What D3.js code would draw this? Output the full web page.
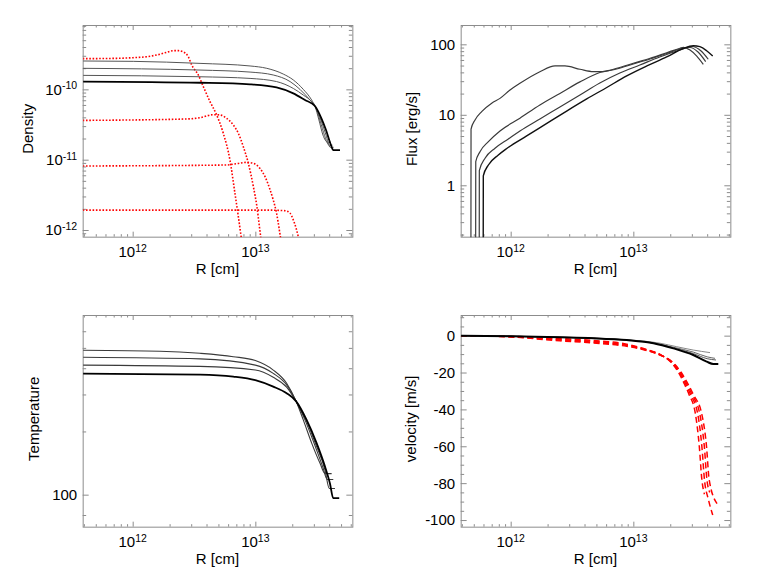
<!DOCTYPE html>
<html><head><meta charset="utf-8">
<script src="https://cdn.jsdelivr.net/npm/d3@7"></script>
<style>
body{margin:0;background:#fff;}
text{font-family:"Liberation Sans",Arial,Helvetica,sans-serif;fill:#000;}
</style></head><body>
<svg id="c" width="757" height="581"></svg>
<script>
// ---------- DATA (R in cm) ----------
const xMajor = [1e12, 1e13];
const xMajorExp = ["12", "13"];
const xMinor = [4e11,5e11,6e11,7e11,8e11,9e11,2e12,3e12,4e12,5e12,6e12,7e12,8e12,9e12,2e13,3e13,4e13,5e13,6e13];

// Density (black solid)
const densBlack1 = [[3.91e11,2.53e-10],[1.01e12,2.50e-10],[3.54e12,2.34e-10],[9.06e12,2.15e-10],[1.24e13,1.99e-10],[1.69e13,1.65e-10],[2.04e13,1.36e-10],[2.46e13,1.0e-10],[2.88e13,7.05e-11],[3.06e13,5.8e-11],[3.30e13,3.67e-11],[3.56e13,2.24e-11],[3.89e13,1.77e-11],[4.14e13,1.77e-11]];
const densBlack2 = [[3.91e11,1.99e-10],[3.54e12,1.88e-10],[9.06e12,1.76e-10],[1.40e13,1.60e-10],[1.92e13,1.29e-10],[2.31e13,1.0e-10],[2.79e13,7.05e-11],[3.06e13,5.8e-11],[3.38e13,3.54e-11],[3.67e13,2.20e-11],[3.99e13,1.61e-11],[4.25e13,1.61e-11]];
const densBlack3 = [[3.91e11,1.58e-10],[3.54e12,1.51e-10],[9.06e12,1.43e-10],[1.49e13,1.29e-10],[2.04e13,1.03e-10],[2.46e13,8.3e-11],[2.88e13,6.68e-11],[3.06e13,5.8e-11],[3.45e13,3.54e-11],[3.77e13,2.24e-11],[4.08e13,1.50e-11],[4.35e13,1.50e-11]];
const densBlack4 = [[3.91e11,1.29e-10],[3.54e12,1.24e-10],[9.06e12,1.18e-10],[1.49e13,1.07e-10],[2.04e13,8.77e-11],[2.54e13,7.05e-11],[3.06e13,5.8e-11],[3.45e13,3.91e-11],[3.77e13,2.64e-11],[4.14e13,1.61e-11],[4.32e13,1.37e-11],[4.90e13,1.37e-11]];
// Density (red dotted)
const densRed1 = [[3.91e11,2.73e-10],[7.42e11,2.76e-10],[1.01e12,2.82e-10],[1.30e12,2.91e-10],[1.57e12,3.08e-10],[1.89e12,3.36e-10],[2.15e12,3.55e-10],[2.36e12,3.55e-10],[2.59e12,3.40e-10],[2.84e12,2.91e-10],[3.03e12,2.22e-10],[3.43e12,1.60e-10],[3.77e12,1.09e-10],[4.27e12,6.68e-11],[4.84e12,4.32e-11],[5.48e12,2.37e-11],[6.21e12,9.88e-12],[6.82e12,3.32e-12],[7.27e12,1.55e-12],[7.7e12,7.5e-13]];
const densRed2 = [[3.91e11,3.62e-11],[2.75e12,3.79e-11],[3.54e12,3.95e-11],[4.55e12,4.36e-11],[5.15e12,4.32e-11],[5.84e12,3.87e-11],[6.62e12,3.11e-11],[7.27e12,2.37e-11],[7.98e12,1.53e-11],[8.77e12,8.87e-12],[9.64e12,4.13e-12],[1.03e13,2.15e-12],[1.08e13,1.11e-12],[1.11e13,7.5e-13]];
const densRed3 = [[3.91e11,8.13e-12],[5.84e12,8.40e-12],[7.05e12,8.77e-12],[8.50e12,9.16e-12],[9.64e12,8.87e-12],[1.09e13,7.53e-12],[1.20e13,5.73e-12],[1.32e13,3.71e-12],[1.40e13,2.67e-12],[1.49e13,1.73e-12],[1.57e13,1.0e-12],[1.61e13,7.5e-13]];
const densRed4 = [[3.91e11,1.92e-12],[1.24e13,1.92e-12],[1.75e13,1.88e-12],[1.92e13,1.73e-12],[2.04e13,1.39e-12],[2.17e13,1.0e-12],[2.26e13,7.5e-13]];
const densMajor = [1e-12, 1e-11, 1e-10];
const densMajorExp = ["-12", "-11", "-10"];

// Flux
const flux1 = [[4.74e11,0.1],[4.75e11,6.24],[5.12e11,8.45],[5.80e11,11.1],[7.0e11,14.6],[8.18e11,17.1],[9.88e11,22.5],[1.19e12,28.0],[1.73e12,40.9],[2.30e12,49.3],[2.77e12,49.3],[3.67e12,44.3],[4.72e12,41.0],[5.69e12,41.0],[7.32e12,45.7],[1.0e13,53.8],[1.37e13,63.4],[1.87e13,76.0],[2.40e13,87.9],[2.56e13,90.6],[2.90e13,83.1],[3.29e13,68.2],[3.72e13,52.1]];
const flux2 = [[5.18e11,0.1],[5.19e11,2.16],[5.62e11,3.00],[6.58e11,4.16],[8.18e11,5.90],[1.19e12,8.93],[1.73e12,13.8],[2.52e12,20.1],[3.67e12,29.3],[5.33e12,39.8],[7.31e12,44.7],[1.0e13,52.6],[1.37e13,61.9],[1.87e13,74.1],[2.40e13,85.9],[2.90e13,90.2],[3.37e13,77.8],[3.89e13,56.8]];
const flux3 = [[5.54e11,0.1],[5.55e11,1.61],[6.18e11,2.42],[7.45e11,3.35],[9.57e11,4.54],[1.19e12,5.90],[1.73e12,8.73],[2.52e12,12.9],[3.67e12,19.1],[5.33e12,28.3],[7.76e12,39.2],[1.13e13,50.9],[1.64e13,66.1],[2.40e13,83.2],[3.01e13,93.1],[3.57e13,80.4],[4.08e13,61.4]];
const flux4 = [[5.97e11,0.1],[5.98e11,1.36],[6.58e11,1.94],[7.93e11,2.69],[9.29e11,3.33],[1.35e12,5.01],[1.97e12,7.54],[2.86e12,11.3],[4.17e12,16.8],[6.07e12,24.4],[8.83e12,35.6],[1.29e13,49.3],[1.87e13,66.1],[2.55e13,87.3],[3.08e13,95.6],[3.49e13,92.6],[3.96e13,81.2],[4.44e13,68.2]];
const fluxMajor = [1, 10, 100];
const fluxMajorLabels = ["1", "10", "100"];

// Temperature
const temp1 = [[3.92e11,487],[1.67e12,482],[3.54e12,471],[6.61e12,454],[1.0e13,435],[1.40e13,392],[1.80e13,339],[2.145e13,279],[2.46e13,227],[2.88e13,176],[3.37e13,141],[3.70e13,126],[4.19e13,126]];
const temp2 = [[3.92e11,451],[3.54e12,443],[1.0e13,414],[1.40e13,378],[1.80e13,333],[2.145e13,279],[2.54e13,227],[3.01e13,176],[3.54e13,136],[3.86e13,118],[4.32e13,118]];
const temp3 = [[3.92e11,414],[3.54e12,408],[1.0e13,392],[1.40e13,362],[1.80e13,325],[2.145e13,279],[2.59e13,227],[3.08e13,176],[3.70e13,131],[4.01e13,107],[4.46e13,107]];
const temp4 = [[3.92e11,377],[3.54e12,373],[6.61e12,365],[1.0e13,351],[1.40e13,327],[1.80e13,304],[2.145e13,279],[2.62e13,227],[3.16e13,176],[3.70e13,136],[4.06e13,113],[4.32e13,96.2],[4.83e13,96.2]];
const tempMajor = [100];
const tempMajorLabels = ["100"];
const tempMinor = [80, 200, 300, 400, 500, 600];

// Velocity
const velBlack1 = [[3.92e11,0],[1e12,-0.3],[2.52e12,-0.8],[4.72e12,-1.3],[8.83e12,-2.2],[1.65e13,-4.1],[2.26e13,-6.0],[3.08e13,-7.8],[4.22e13,-9.2]];
const velBlack2 = [[3.92e11,0],[1e12,-0.3],[2.52e12,-0.85],[4.72e12,-1.35],[8.83e12,-2.3],[1.46e13,-4.0],[2.12e13,-6.3],[3.08e13,-8.9],[4.0e13,-11.5],[4.63e13,-12.3]];
const velBlack3 = [[3.92e11,0],[1e12,-0.3],[2.52e12,-0.9],[4.72e12,-1.4],[8.83e12,-2.35],[1.46e13,-4.1],[2.12e13,-6.6],[3.08e13,-9.7],[4.0e13,-12.5],[4.72e13,-13.2]];
const velBlack4 = [[3.92e11,0],[1e12,-0.3],[2.52e12,-0.9],[4.72e12,-1.4],[8.83e12,-2.4],[1.46e13,-4.1],[2.12e13,-6.9],[3.08e13,-10.5],[3.96e13,-14.1],[4.49e13,-15.4],[4.93e13,-15.4]];
const velRed1 = [[3.92e11,0],[1e12,-0.4],[2.52e12,-1.6],[4.72e12,-2.6],[8.83e12,-4.6],[1.21e13,-7.0],[1.65e13,-10.2],[2.0e13,-14],[2.31e13,-19.5],[2.6e13,-26],[2.85e13,-32],[3.2e13,-42],[3.45e13,-60],[3.62e13,-78],[3.8e13,-86]];
const velRed2 = [[3.92e11,0],[1e12,-0.5],[2.52e12,-2.0],[4.72e12,-3.1],[8.83e12,-5.0],[1.21e13,-7.2],[1.65e13,-10.3],[2.02e13,-14],[2.35e13,-19.5],[2.66e13,-26],[2.93e13,-32],[3.34e13,-42],[3.62e13,-60],[3.8e13,-78],[4.1e13,-89],[4.44e13,-97.3]];
const velRed3 = [[3.92e11,0],[1e12,-0.6],[2.52e12,-2.4],[4.72e12,-3.6],[8.83e12,-5.4],[1.21e13,-7.4],[1.65e13,-10.4],[2.04e13,-14],[2.39e13,-19.5],[2.72e13,-26],[3.01e13,-32],[3.47e13,-42],[3.79e13,-60],[3.98e13,-78],[4.2e13,-85]];
const velRed4 = [[3.92e11,0],[1e12,-0.7],[2.52e12,-2.8],[4.72e12,-4.0],[8.83e12,-5.8],[1.21e13,-7.6],[1.65e13,-10.5],[2.06e13,-14],[2.43e13,-19.5],[2.78e13,-26],[3.09e13,-32],[3.6e13,-42],[3.95e13,-60],[4.15e13,-78],[4.83e13,-91.3]];
const velMajor = [0, -20, -40, -60, -80, -100];
const velMajorLabels = ["0", "-20", "-40", "-60", "-80", "-100"];
const velMinor = [10, 5, -5, -10, -15, -25, -30, -35, -45, -50, -55, -65, -70, -75, -85, -90, -95];

// ---------- DRAWING ----------
const svg = d3.select("#c");
const PW = 269.67, PH = 211.67;
const xDomain = [3.91e11, 6.18e13];
const frameColor = "#8c8c8c";

function logMinor(lo, hi) {
  const out = [];
  for (let e = Math.floor(Math.log10(lo)); e <= Math.ceil(Math.log10(hi)); e++) {
    for (let m = 2; m <= 9; m++) { const v = m * Math.pow(10, e); if (v >= lo && v <= hi) out.push(v); }
  }
  return out;
}

function addSuper(t, base, exp) {
  t.append("tspan").text(base);
  if (exp) t.append("tspan").attr("dy", -5.5).attr("font-size", 10.5).text(exp);
}

let clipId = 0;
function panel(cfg) {
  const x0 = cfg.x0, y0 = cfg.y0;
  const g = svg.append("g");
  const x = d3.scaleLog().domain(xDomain).range([x0, x0 + PW]);
  const y = cfg.y.range([y0 + PH, y0]);

  const axisG = (axis, tx, ty) => {
    const a = g.append("g").attr("transform", `translate(${tx},${ty})`).call(axis);
    a.select(".domain").remove();
    a.selectAll("line").attr("stroke", frameColor).attr("stroke-width", 1);
    a.selectAll("text").remove();
  };
  axisG(d3.axisBottom(x).tickValues(xMajor).tickSizeInner(-5).tickSizeOuter(0), 0, y0 + PH);
  axisG(d3.axisBottom(x).tickValues(xMinor).tickSizeInner(-2.5).tickSizeOuter(0), 0, y0 + PH);
  axisG(d3.axisTop(x).tickValues(xMajor).tickSizeInner(-5).tickSizeOuter(0), 0, y0);
  axisG(d3.axisTop(x).tickValues(xMinor).tickSizeInner(-2.5).tickSizeOuter(0), 0, y0);
  axisG(d3.axisLeft(y).tickValues(cfg.yMajor).tickSizeInner(-6).tickSizeOuter(0), x0, 0);
  axisG(d3.axisLeft(y).tickValues(cfg.yMinor).tickSizeInner(-3.5).tickSizeOuter(0), x0, 0);
  axisG(d3.axisRight(y).tickValues(cfg.yMajor).tickSizeInner(-6).tickSizeOuter(0), x0 + PW, 0);
  axisG(d3.axisRight(y).tickValues(cfg.yMinor).tickSizeInner(-3.5).tickSizeOuter(0), x0 + PW, 0);

  g.append("rect").attr("x", x0 + 0.5).attr("y", y0 + 0.5).attr("width", PW).attr("height", PH)
    .attr("fill", "none").attr("stroke", frameColor).attr("stroke-width", 1);

  xMajor.forEach((v, i) => {
    const t = g.append("text").attr("x", x(v)).attr("y", y0 + PH + 20.7)
      .attr("text-anchor", "middle").attr("font-size", 15);
    addSuper(t, "10", xMajorExp[i]);
  });
  g.append("text").attr("x", x0 + PW / 2).attr("y", y0 + PH + 37.3)
    .attr("text-anchor", "middle").attr("font-size", 15).text("R [cm]");

  cfg.yMajor.forEach((v, i) => {
    const t = g.append("text").attr("x", x0 - 5.5).attr("y", y(v) + 5.4)
      .attr("text-anchor", "end").attr("font-size", 15);
    if (cfg.yExp) addSuper(t, "10", cfg.yExp[i]); else t.text(cfg.yLabels[i]);
  });
  g.append("text")
    .attr("transform", `translate(${cfg.titleX},${y0 + PH / 2 - 2}) rotate(-90)`)
    .attr("text-anchor", "middle").attr("font-size", 15).text(cfg.title);

  const id = "clip" + (clipId++);
  svg.append("clipPath").attr("id", id).append("rect")
    .attr("x", x0 + 0.5).attr("y", y0 + 0.5).attr("width", PW).attr("height", PH);
  const plot = g.append("g").attr("clip-path", `url(#${id})`);
  const line = d3.line().x(d => x(d[0])).y(d => y(d[1])).curve(d3.curveMonotoneX);
  cfg.series.forEach(s => {
    plot.append("path").attr("d", line(s.data)).attr("fill", "none")
      .attr("stroke", s.color).attr("stroke-width", s.w)
      .attr("stroke-dasharray", s.dash || null)
      .attr("stroke-linejoin", "round");
  });
}

const thin = "#3a3a3a";
panel({
  x0: 82.67, y0: 25, title: "Density", titleX: 32.5,
  y: d3.scaleLog().domain([8.04e-13, 8.22e-10]),
  yMajor: densMajor, yExp: densMajorExp, yMinor: logMinor(8.04e-13, 8.22e-10),
  series: [
    {data: densRed1, color: "#ff0000", w: 1.6, dash: "1.6,1.7"},
    {data: densRed2, color: "#ff0000", w: 1.6, dash: "1.6,1.7"},
    {data: densRed3, color: "#ff0000", w: 1.6, dash: "1.6,1.7"},
    {data: densRed4, color: "#ff0000", w: 1.6, dash: "1.6,1.7"},
    {data: densBlack1, color: "#555", w: 1},
    {data: densBlack2, color: "#555", w: 1},
    {data: densBlack3, color: "#555", w: 1},
    {data: densBlack4, color: "#000", w: 1.8}
  ]
});
panel({
  x0: 460.67, y0: 25, title: "Flux [erg/s]", titleX: 417,
  y: d3.scaleLog().domain([0.1866, 188]),
  yMajor: fluxMajor, yLabels: fluxMajorLabels, yMinor: logMinor(0.1866, 188),
  series: [
    {data: flux1, color: thin, w: 1.2},
    {data: flux2, color: thin, w: 1.2},
    {data: flux3, color: thin, w: 1.2},
    {data: flux4, color: "#111", w: 1.4}
  ]
});
panel({
  x0: 82.67, y0: 315, title: "Temperature", titleX: 39,
  y: d3.scaleLog().domain([70.4, 717]),
  yMajor: tempMajor, yLabels: tempMajorLabels, yMinor: tempMinor,
  series: [
    {data: temp1, color: thin, w: 1.1},
    {data: temp2, color: thin, w: 1.1},
    {data: temp3, color: thin, w: 1.1},
    {data: temp4, color: "#000", w: 1.8}
  ]
});
panel({
  x0: 460.67, y0: 315, title: "velocity [m/s]", titleX: 415.7,
  y: d3.scaleLinear().domain([-103.6, 11.2]),
  yMajor: velMajor, yLabels: velMajorLabels, yMinor: velMinor,
  series: [
    {data: velRed1, color: "#ff0000", w: 1.5, dash: "6,3.5"},
    {data: velRed2, color: "#ff0000", w: 1.5, dash: "6,3.5"},
    {data: velRed3, color: "#ff0000", w: 1.5, dash: "6,3.5"},
    {data: velRed4, color: "#ff0000", w: 1.5, dash: "6,3.5"},
    {data: velBlack1, color: "#888", w: 1},
    {data: velBlack2, color: "#666", w: 1},
    {data: velBlack3, color: "#555", w: 1},
    {data: velBlack4, color: "#000", w: 2}
  ]
});
</script></body></html>
